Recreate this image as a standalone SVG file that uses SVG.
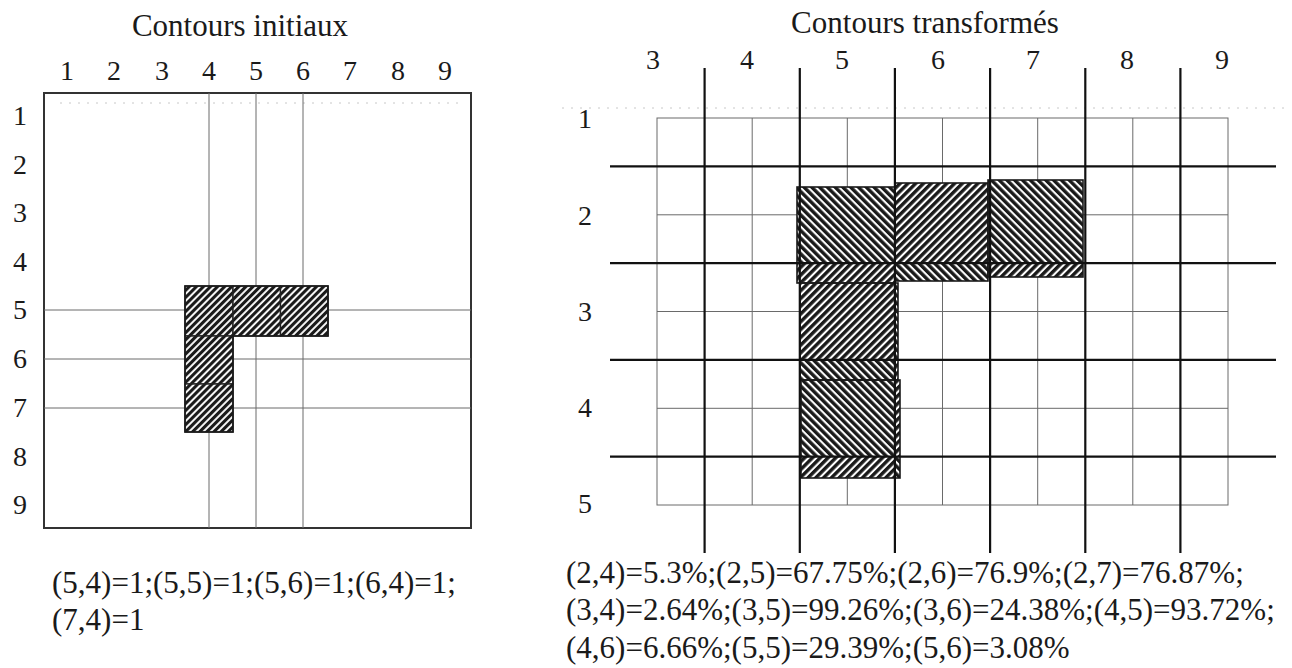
<svg xmlns="http://www.w3.org/2000/svg" width="1292" height="668" viewBox="0 0 1292 668" font-family="'Liberation Serif','Times New Roman',serif">
<style>
text{font-family:"Liberation Serif","Times New Roman",serif;fill:#1a1a1a}
.title{font-size:31px;text-anchor:middle}
.lab{font-size:28px;text-anchor:middle}
.txt{font-size:31px}
.fine{stroke:#6a6a6a;stroke-width:1;fill:none}
.thick{stroke:#111;stroke-width:2.2;fill:none}
.box{stroke:#333;stroke-width:2;fill:#fff}
.cell{stroke:#222;stroke-width:1.4}
.outline{stroke:#1a1a1a;stroke-width:1.6;fill:none}
.speck{stroke:#c8c8c8;stroke-width:1;stroke-dasharray:2 7;fill:none}
</style>
<defs>
<pattern id="hl" patternUnits="userSpaceOnUse" width="5" height="5" patternTransform="rotate(45)"><rect width="5" height="5" fill="#fff"/><rect width="3.1" height="5" fill="#1a1a1a"/></pattern>
<pattern id="pf" patternUnits="userSpaceOnUse" width="5.5" height="5.5" patternTransform="rotate(45)"><rect width="5.5" height="5.5" fill="#fff"/><rect width="3.4" height="5.5" fill="#1a1a1a"/></pattern>
<pattern id="pb" patternUnits="userSpaceOnUse" width="5.5" height="5.5" patternTransform="rotate(-45)"><rect width="5.5" height="5.5" fill="#fff"/><rect width="3.4" height="5.5" fill="#1a1a1a"/></pattern>
<clipPath id="shape">
<rect x="797" y="187" width="98" height="96"/>
<rect x="895" y="183" width="93" height="98"/>
<rect x="988" y="180" width="95" height="97"/>
<rect x="800" y="283" width="98" height="97"/>
<rect x="801" y="380" width="99" height="98"/>
</clipPath>
</defs>
<rect width="1292" height="668" fill="#fff"/>

<g id="panel-initial">
<text class="title" x="240" y="36">Contours initiaux</text>
<g id="initial-col-labels">
<text class="lab" x="67" y="80">1</text><text class="lab" x="114" y="80">2</text><text class="lab" x="162" y="80">3</text><text class="lab" x="209" y="80">4</text><text class="lab" x="256" y="80">5</text><text class="lab" x="303" y="80">6</text><text class="lab" x="350" y="80">7</text><text class="lab" x="398" y="80">8</text><text class="lab" x="445" y="80">9</text>
</g>
<g id="initial-row-labels">
<text class="lab" x="20" y="125">1</text><text class="lab" x="20" y="174">2</text><text class="lab" x="20" y="222">3</text><text class="lab" x="20" y="271">4</text><text class="lab" x="20" y="319">5</text><text class="lab" x="20" y="368">6</text><text class="lab" x="20" y="417">7</text><text class="lab" x="20" y="466">8</text><text class="lab" x="20" y="514">9</text>
</g>
<rect class="box" x="44" y="93" width="427" height="435"/>
<line class="speck" x1="60" y1="103" x2="460" y2="103"/>
<g id="initial-lines" class="fine">
<line x1="209" y1="93" x2="209" y2="528"/><line x1="256" y1="93" x2="256" y2="528"/><line x1="303" y1="93" x2="303" y2="528"/>
<line x1="44" y1="310" x2="471" y2="310"/><line x1="44" y1="359" x2="471" y2="359"/><line x1="44" y1="408" x2="471" y2="408"/>
</g>
<g id="initial-cells" fill="url(#hl)" class="cell">
<rect id="c-5-4" x="185" y="286" width="48" height="50"/>
<rect id="c-5-5" x="233" y="286" width="47.5" height="50"/>
<rect id="c-5-6" x="280.5" y="286" width="47.5" height="50"/>
<rect id="c-6-4" x="185" y="336" width="48" height="48"/>
<rect id="c-7-4" x="185" y="384" width="48" height="48"/>
</g>
<path class="outline" d="M185,286 H328 V336 H233 V432 H185 Z"/>
<text class="txt" x="52" y="593">(5,4)=1;(5,5)=1;(5,6)=1;(6,4)=1;</text>
<text class="txt" x="52" y="630">(7,4)=1</text>
</g>

<g id="panel-transformed">
<text class="title" x="925" y="33">Contours transformés</text>
<g id="transformed-col-labels">
<text class="lab" x="653" y="69">3</text><text class="lab" x="747" y="69">4</text><text class="lab" x="842" y="69">5</text><text class="lab" x="938" y="69">6</text><text class="lab" x="1033" y="69">7</text><text class="lab" x="1127" y="69">8</text><text class="lab" x="1222" y="69">9</text>
</g>
<g id="transformed-row-labels">
<text class="lab" x="585" y="128">1</text><text class="lab" x="585" y="225">2</text><text class="lab" x="585" y="321">3</text><text class="lab" x="585" y="417">4</text><text class="lab" x="585" y="513">5</text>
</g>
<line class="speck" x1="562" y1="108" x2="1285" y2="108"/>
<g id="fine-grid" class="fine">
<rect x="657" y="118" width="571" height="387"/>
<line x1="752.2" y1="118" x2="752.2" y2="505"/><line x1="847.3" y1="118" x2="847.3" y2="505"/><line x1="942.5" y1="118" x2="942.5" y2="505"/><line x1="1037.7" y1="118" x2="1037.7" y2="505"/><line x1="1132.8" y1="118" x2="1132.8" y2="505"/>
<line x1="657" y1="214.8" x2="1228" y2="214.8"/><line x1="657" y1="311.5" x2="1228" y2="311.5"/><line x1="657" y1="408.3" x2="1228" y2="408.3"/>
</g>
<g id="transformed-hatch" clip-path="url(#shape)">
<rect x="705" y="166.4" width="95" height="97" fill="url(#pb)"/>
<rect x="800" y="166.4" width="95" height="97" fill="url(#pb)"/>
<rect x="895" y="166.4" width="95" height="97" fill="url(#pf)"/>
<rect x="990" y="166.4" width="95" height="97" fill="url(#pb)"/>
<rect x="705" y="263.1" width="95" height="97" fill="url(#pf)"/>
<rect x="800" y="263.1" width="95" height="97" fill="url(#pf)"/>
<rect x="895" y="263.1" width="95" height="97" fill="url(#pb)"/>
<rect x="990" y="263.1" width="95" height="97" fill="url(#pf)"/>
<rect x="800" y="359.9" width="95" height="97" fill="url(#pb)"/>
<rect x="895" y="359.9" width="95" height="97" fill="url(#pf)"/>
<rect x="800" y="456.6" width="95" height="97" fill="url(#pf)"/>
<rect x="895" y="456.6" width="95" height="97" fill="url(#pb)"/>
</g>
<g id="transformed-cells" class="outline">
<rect x="797" y="187" width="98" height="96"/>
<rect x="895" y="183" width="93" height="98"/>
<rect x="988" y="180" width="95" height="97"/>
<rect x="800" y="283" width="98" height="97"/>
<rect x="801" y="380" width="99" height="98"/>
</g>
<g id="coarse-grid" class="thick">
<line x1="704.6" y1="68" x2="704.6" y2="553"/><line x1="799.8" y1="68" x2="799.8" y2="553"/><line x1="894.9" y1="68" x2="894.9" y2="553"/><line x1="990.1" y1="68" x2="990.1" y2="553"/><line x1="1085.3" y1="68" x2="1085.3" y2="553"/><line x1="1180.4" y1="68" x2="1180.4" y2="553"/>
<line x1="610" y1="166.4" x2="1276" y2="166.4"/><line x1="610" y1="263.1" x2="1276" y2="263.1"/><line x1="610" y1="359.9" x2="1276" y2="359.9"/><line x1="610" y1="456.6" x2="1276" y2="456.6"/>
</g>
<text class="txt" x="566" y="583">(2,4)=5.3%;(2,5)=67.75%;(2,6)=76.9%;(2,7)=76.87%;</text>
<text class="txt" x="566" y="620">(3,4)=2.64%;(3,5)=99.26%;(3,6)=24.38%;(4,5)=93.72%;</text>
<text class="txt" x="566" y="658">(4,6)=6.66%;(5,5)=29.39%;(5,6)=3.08%</text>
</g>
</svg>
